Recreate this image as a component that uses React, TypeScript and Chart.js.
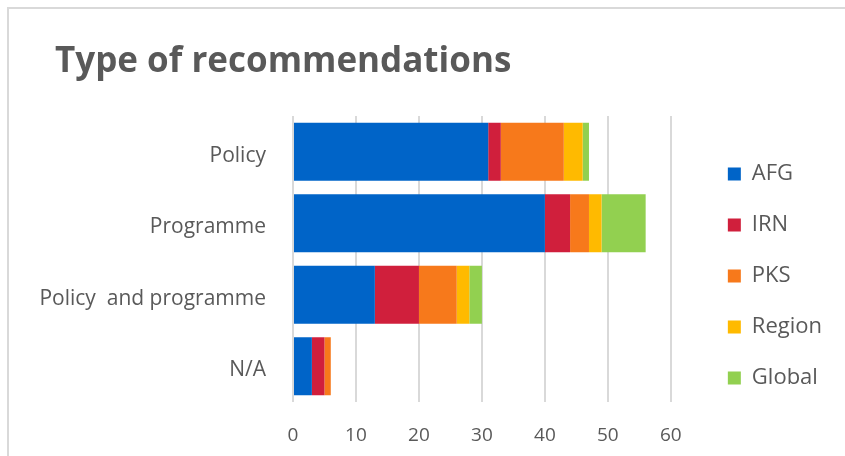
import React, { useEffect, useRef } from "react";
import { Chart, registerables } from "chart.js";

Chart.register(...registerables);

const categories = ["Policy", "Programme", "Policy  and programme", "N/A"];
const seriesNames = ["AFG", "IRN", "PKS", "Region", "Global"];
const afg = [31, 40, 13, 3];
const irn = [2, 4, 7, 2];
const pks = [10, 3, 6, 1];
const region = [3, 2, 2, 0];
const global = [1, 7, 2, 0];
const xTicks = [0, 10, 20, 30, 40, 50, 60];
const colors = ["#0064C8", "#D01F3C", "#F7791B", "#FFBA00", "#92D050"];

const FONT = "'Open Sans', 'DejaVu Sans', sans-serif";
const GRAY = "#595959";

const titleShift = {
  id: "titleShift",
  afterLayout(chart: any) {
    if (chart.titleBlock) chart.titleBlock.left = 55;
  },
};

export default function App() {
  const ref = useRef<HTMLCanvasElement | null>(null);

  useEffect(() => {
    if (!ref.current) return;
    const values = [afg, irn, pks, region, global];
    const chart = new Chart(ref.current, {
      type: "bar",
      data: {
        labels: categories,
        datasets: seriesNames.map((name, i) => ({
          label: name,
          data: values[i],
          backgroundColor: colors[i],
          borderWidth: 0,
          barPercentage: 0.81,
          categoryPercentage: 1.0,
        })),
      },
      plugins: [titleShift],
      options: {
        indexAxis: "y",
        animation: false,
        responsive: false,
        maintainAspectRatio: false,
        layout: { padding: { left: 15, right: 13, top: 20, bottom: 11 } },
        scales: {
          x: {
            stacked: true,
            min: 0,
            max: 60,
            afterBuildTicks: (scale: any) => {
              scale.ticks = xTicks.map((v) => ({ value: v }));
            },
            afterFit: (scale: any) => {
              scale.height = 43;
            },
            grid: { color: "#D9D9D9", lineWidth: 2, drawTicks: false },
            border: { display: false },
            ticks: { color: GRAY, font: { family: FONT, size: 19 }, padding: 22 },
          },
          y: {
            stacked: true,
            afterFit: (scale: any) => {
              scale.width = 278;
            },
            grid: { display: false, drawTicks: false },
            border: { display: false },
            ticks: { color: GRAY, font: { family: FONT, size: 21 }, padding: 27, labelOffset: 4 },
          },
          y2: {
            type: "category",
            position: "right",
            afterFit: (scale: any) => {
              scale.width = 28;
            },
            grid: { display: false, drawTicks: false },
            border: { display: false },
            ticks: { display: false },
          },
        },
        plugins: {
          title: {
            display: true,
            text: "Type of recommendations",
            align: "start",
            color: GRAY,
            font: { family: FONT, size: 35, weight: "bold", lineHeight: 1.2 },
            padding: { top: 21, bottom: 33 },
          },
          legend: {
            position: "right",
            align: "start",
            fullSize: true,
            title: { display: true, text: "", padding: 0, font: { size: 12, lineHeight: "114px" } },
            labels: {
              color: GRAY,
              font: { family: FONT, size: 22 },
              boxWidth: 13,
              boxHeight: 13,
              padding: 29,
            },
          },
          tooltip: { enabled: false },
        },
      },
    });
    return () => chart.destroy();
  }, []);

  return (
    <div style={{ position: "fixed", left: 0, top: 0, width: 845, height: 456, background: "#fff" }}>
      <div
        style={{
          position: "absolute",
          left: 7,
          top: 7,
          width: 838,
          height: 449,
          borderTop: "2px solid #D9D9D9",
          borderLeft: "2px solid #D9D9D9",
          boxSizing: "border-box",
        }}
      />
      <canvas ref={ref} width={845} height={456} style={{ position: "absolute", left: 0, top: 0 }} />
    </div>
  );
}
